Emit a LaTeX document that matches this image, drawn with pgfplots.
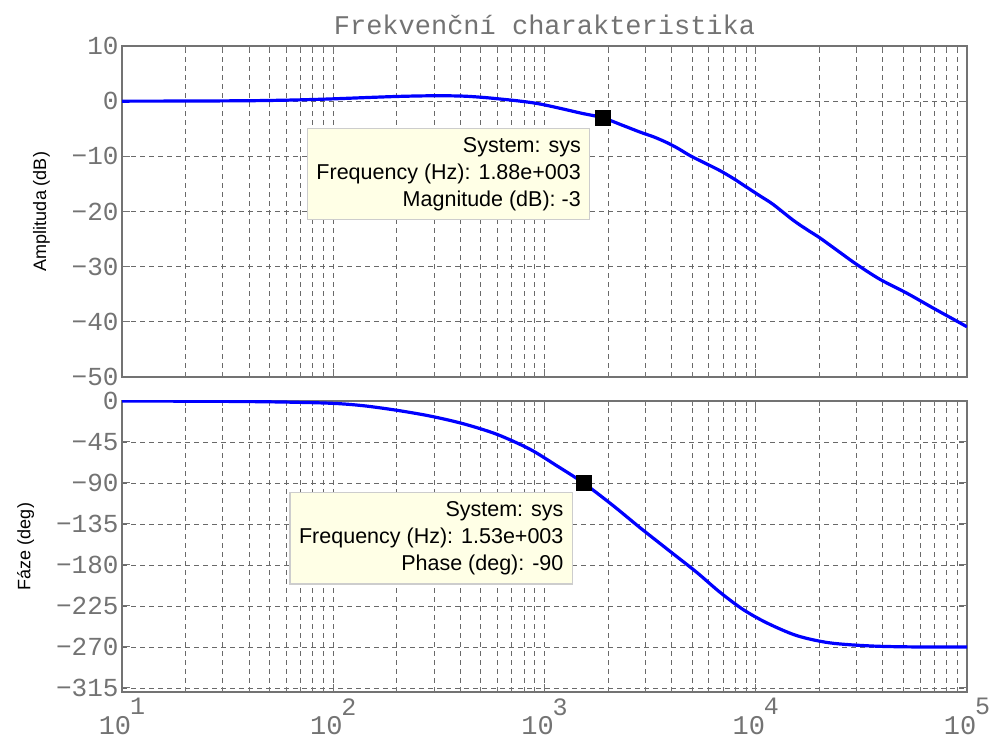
\documentclass[border=0pt]{standalone}
\usepackage{fontspec}
\setmainfont{Liberation Sans}
\newfontfamily\monofont{Liberation Mono}
\usepackage{pgfplots}
\pgfplotsset{compat=1.18}

\definecolor{axgray}{RGB}{115,115,115}
\definecolor{gridgray}{RGB}{105,105,105}
\definecolor{tipfill}{RGB}{255,255,230}
\definecolor{tipedge}{RGB}{205,205,205}

% decade label: base 10 with the exponent set high and to the right
\newcommand\dec[1]{{\fontsize{27}{27}\selectfont 10}\hspace{-1pt}\raisebox{19.5pt}{\fontsize{25}{25}\selectfont #1}}

\tikzset{
  dtbox/.style={draw=tipedge, fill=tipfill, line width=1.2pt, align=right,
    font=\fontsize{21.5}{27}\selectfont, inner xsep=9pt, inner ysep=9pt,
    anchor=north east},
}

\begin{document}
\begin{tikzpicture}
\path[use as bounding box] (0,0) rectangle (991pt,744pt);

% magnitude
\begin{axis}[scale only axis, width=845pt, height=331pt,
  at={(122pt,367pt)}, anchor=south west,
  xmode=log, xmin=10, xmax=100000,
  xtick={10,100,1000,10000,100000}, xticklabels={},
  grid=both,
  major grid style={gridgray, line width=0.9pt, dash pattern=on 5pt off 4pt},
  minor grid style={gridgray, line width=0.9pt, dash pattern=on 5pt off 4pt},
  axis line style={axgray, line width=1.4pt},
  tick style={axgray, line width=1pt},
  major tick length=8pt, minor tick length=5pt,
  ticklabel style={font=\monofont\fontsize{26}{26}\selectfont, text=axgray},
  ylabel style={font=\fontsize{18}{18}\selectfont, text=black},
  ylabel shift=15pt,
  ymin=-50, ymax=10, ytick={-50,-40,-30,-20,-10,0,10},
  yticklabels={−50,−40,−30,−20,−10,0,10},
  ylabel={Amplituda (dB)},
  title={Frekvenční charakteristika},
  title style={font=\monofont\fontsize{27}{27}\selectfont, text=axgray, yshift=2pt}]
\addplot[blue, line width=3.2pt, mark=none, smooth] coordinates {
 (10,0) (20,0.02) (40,0.08) (60,0.18) (80,0.3) (100,0.42) (150,0.68)
 (200,0.85) (260,0.95) (330,0.98) (420,0.9) (520,0.66) (620,0.38)
 (750,0.05) (900,-0.35) (1050,-0.85) (1250,-1.5) (1500,-2.2) (1880,-3)
 (2350,-4.4) (2830,-5.6) (3300,-6.5) (3790,-7.5) (4300,-8.6) (4900,-9.9)
 (5800,-11.3) (6780,-12.6) (7900,-14.1) (9060,-15.6) (10500,-17.2)
 (12070,-18.7) (15060,-21.6) (17500,-23.3) (20140,-24.8) (25000,-27.4)
 (30060,-29.6) (38730,-32.3) (51860,-34.8) (69100,-37.5) (85000,-39.4)
 (100000,-40.9)
};
\addplot[only marks, mark=square*, mark size=7.5pt, black] coordinates {(1880,-3)};
\node[dtbox, xshift=-12pt, yshift=-10pt] at (axis cs:1880,-3)
  {System: sys\\Frequency (Hz): 1.88e+003\\Magnitude (dB): -3};
\end{axis}

% phase
\begin{axis}[scale only axis, width=845pt, height=291pt,
  at={(122pt,52pt)}, anchor=south west,
  xmode=log, xmin=10, xmax=100000,
  xtick={10,100,1000,10000,100000},
  xticklabels={\dec{1},\dec{2},\dec{3},\dec{4},\dec{5}},
  grid=both,
  major grid style={gridgray, line width=0.9pt, dash pattern=on 5pt off 4pt},
  minor grid style={gridgray, line width=0.9pt, dash pattern=on 5pt off 4pt},
  axis line style={axgray, line width=1.4pt},
  tick style={axgray, line width=1pt},
  major tick length=8pt, minor tick length=5pt,
  ticklabel style={font=\monofont\fontsize{26}{26}\selectfont, text=axgray},
  xticklabel style={font=\monofont\fontsize{24}{24}\selectfont, yshift=-3pt},
  ylabel style={font=\fontsize{18}{18}\selectfont, text=black},
  ylabel shift=15pt,
  ymin=-319.4, ymax=0, ytick={-315,-270,-225,-180,-135,-90,-45,0},
  yticklabels={−315,−270,−225,−180,−135,−90,−45,0},
  ylabel={Fáze (deg)}]
\addplot[blue, line width=3.2pt, mark=none, smooth] coordinates {
 (10,0) (30,-0.4) (60,-1.2) (100,-2.6) (139,-5.2) (200,-10.2) (287,-16.5)
 (413,-25) (594,-36.5) (854,-53) (1142,-71) (1530,-90) (2117,-115)
 (2831,-139) (3928,-165) (5250,-188) (6775,-210) (8730,-229)
 (11270,-243.5) (15630,-257.5) (22450,-265.5) (36000,-269) (60000,-270)
 (100000,-270)
};
\addplot[only marks, mark=square*, mark size=7.5pt, black] coordinates {(1530,-90)};
\node[dtbox, xshift=-10.5pt, yshift=-9pt] at (axis cs:1530,-90)
  {System: sys\\Frequency (Hz): 1.53e+003\\Phase (deg): -90};
\end{axis}
\end{tikzpicture}
\end{document}
